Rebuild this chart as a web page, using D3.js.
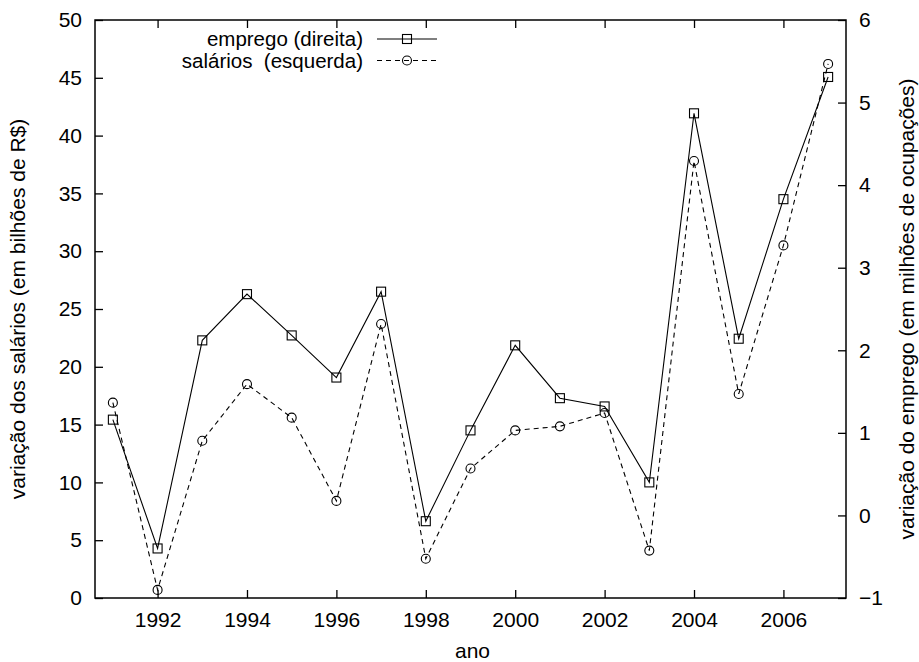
<!DOCTYPE html>
<html>
<head>
<meta charset="utf-8">
<script src="https://cdn.jsdelivr.net/npm/d3@7"></script>
<style>
  html, body { margin: 0; padding: 0; background: #fff; }
  svg { display: block; font-family: "Liberation Sans", Arial, Helvetica, sans-serif; }
</style>
</head>
<body>
<svg id="chart" width="919" height="662"></svg>
<script>
// Annual series, 1991–2007
const years = [1991, 1992, 1993, 1994, 1995, 1996, 1997, 1998, 1999,
               2000, 2001, 2002, 2003, 2004, 2005, 2006, 2007];
// employment change, millions of jobs (right axis)
const emprego = [1.16, -0.40, 2.12, 2.68, 2.18, 1.67, 2.71, -0.07, 1.03,
                 2.06, 1.42, 1.32, 0.40, 4.87, 2.14, 3.83, 5.31];
// wage change, R$ billions (left axis)
const salarios = [16.9, 0.7, 13.6, 18.5, 15.6, 8.4, 23.7, 3.4, 11.2,
                  14.5, 14.85, 16.0, 4.1, 37.8, 17.65, 30.5, 46.2];

const xTicks = [1992, 1994, 1996, 1998, 2000, 2002, 2004, 2006];
const yTicks = [0, 5, 10, 15, 20, 25, 30, 35, 40, 45, 50];
const y2Ticks = [-1, 0, 1, 2, 3, 4, 5, 6];

const legendLabels = ["emprego (direita)", "salários  (esquerda)"];

const svg = d3.select("#chart");
const pL = 95, pR = 846, pT = 20, pB = 598;
const fontSize = 21;
const tickLen = 8;

const x = d3.scaleLinear().domain([1990.6, 2007.4]).range([pL, pR]);
const y = d3.scaleLinear().domain([0, 50]).range([pB, pT]);
const y2 = d3.scaleLinear().domain([-1, 6]).range([pB, pT]);

// Axes: ticks point into the plot
const axBottom = svg.append("g").attr("transform", `translate(0,${pB})`)
  .call(d3.axisBottom(x).tickValues(xTicks).tickFormat(d3.format("d"))
        .tickSizeInner(-tickLen).tickSizeOuter(0).tickPadding(tickLen + 6));
const axTop = svg.append("g").attr("transform", `translate(0,${pT})`)
  .call(d3.axisTop(x).tickValues(xTicks).tickFormat("")
        .tickSizeInner(-tickLen).tickSizeOuter(0));
const axLeft = svg.append("g").attr("transform", `translate(${pL},0)`)
  .call(d3.axisLeft(y).tickValues(yTicks).tickFormat(d3.format("d"))
        .tickSizeInner(-tickLen).tickSizeOuter(0).tickPadding(tickLen + 5));
const axRight = svg.append("g").attr("transform", `translate(${pR},0)`)
  .call(d3.axisRight(y2).tickValues(y2Ticks).tickFormat(d => d < 0 ? "\u2212" + Math.abs(d) : String(d))
        .tickSizeInner(-tickLen).tickSizeOuter(0).tickPadding(tickLen + 5));

[axBottom, axTop, axLeft, axRight].forEach(g => {
  g.select(".domain").remove();
  g.selectAll(".tick line").attr("stroke", "#000").attr("stroke-width", 1.3);
  g.selectAll(".tick text").attr("fill", "#000").attr("font-size", fontSize)
    .attr("font-family", "Liberation Sans, Arial, sans-serif");
});
axBottom.selectAll(".tick text").attr("dy", "0.71em");

// Plot frame
svg.append("rect").attr("x", pL).attr("y", pT)
  .attr("width", pR - pL).attr("height", pB - pT)
  .attr("fill", "none").attr("stroke", "#000").attr("stroke-width", 1.5);

// Axis titles
svg.append("text").attr("x", (pL + pR) / 2 + 2).attr("y", 658)
  .attr("text-anchor", "middle").attr("font-size", fontSize).text("ano");
svg.append("text")
  .attr("transform", `translate(25,${(pT + pB) / 2}) rotate(-90)`)
  .attr("text-anchor", "middle").attr("font-size", fontSize)
  .text("variação dos salários (em bilhões de R$)");
svg.append("text")
  .attr("transform", `translate(914,${(pT + pB) / 2}) rotate(-90)`)
  .attr("text-anchor", "middle").attr("font-size", fontSize)
  .text("variação do emprego (em milhões de ocupações)");

// Series
const empData = years.map((yr, i) => ({ x: yr, v: emprego[i] }));
const salData = years.map((yr, i) => ({ x: yr, v: salarios[i] }));

const plot = svg.append("g");
plot.append("path").datum(empData)
  .attr("d", d3.line().x(d => x(d.x)).y(d => y2(d.v)))
  .attr("fill", "none").attr("stroke", "#000").attr("stroke-width", 1.1);
plot.append("path").datum(salData)
  .attr("d", d3.line().x(d => x(d.x)).y(d => y(d.v)))
  .attr("fill", "none").attr("stroke", "#000").attr("stroke-width", 1.1)
  .attr("stroke-dasharray", "5,4");

const sq = 9, rc = 4.5;
plot.selectAll(".sq").data(empData).join("rect").attr("class", "sq")
  .attr("x", d => x(d.x) - sq / 2).attr("y", d => y2(d.v) - sq / 2)
  .attr("width", sq).attr("height", sq)
  .attr("fill", "none").attr("stroke", "#000").attr("stroke-width", 1.1);
plot.selectAll(".ci").data(salData).join("circle").attr("class", "ci")
  .attr("cx", d => x(d.x)).attr("cy", d => y(d.v)).attr("r", rc)
  .attr("fill", "none").attr("stroke", "#000").attr("stroke-width", 1.1);

// Legend
const legX = 363, lineX0 = 377, lineX1 = 437;
const legRows = [39, 60.5];
const leg = svg.append("g");
legendLabels.forEach((lab, i) => {
  const cy = legRows[i];
  leg.append("text").attr("x", legX).attr("y", cy + 7).attr("text-anchor", "end")
    .attr("font-size", 20.5).style("white-space", "pre").text(lab);
  leg.append("line").attr("x1", lineX0).attr("x2", lineX1).attr("y1", cy).attr("y2", cy)
    .attr("stroke", "#000").attr("stroke-width", 1.1)
    .attr("stroke-dasharray", i === 1 ? "5,4" : null);
  const mx = (lineX0 + lineX1) / 2;
  if (i === 0) {
    leg.append("rect").attr("x", mx - sq / 2).attr("y", cy - sq / 2)
      .attr("width", sq).attr("height", sq)
      .attr("fill", "none").attr("stroke", "#000").attr("stroke-width", 1.1);
  } else {
    leg.append("circle").attr("cx", mx).attr("cy", cy).attr("r", rc)
      .attr("fill", "none").attr("stroke", "#000").attr("stroke-width", 1.1);
  }
});
</script>
</body>
</html>
